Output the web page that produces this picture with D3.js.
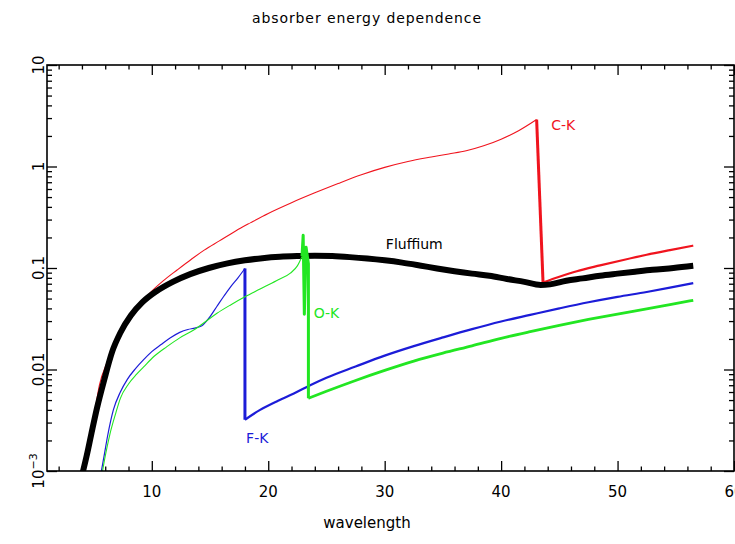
<!DOCTYPE html>
<html>
<head>
<meta charset="utf-8">
<script src="https://cdn.jsdelivr.net/npm/d3@7"></script>
<style>
  body { margin: 0; background: #fff; }
  svg { display: block; }
  text { font-family: "DejaVu Sans", sans-serif; fill: #000; }
  .axis path { display: none; }
  .axis line { stroke: #000; stroke-width: 1.3; }
</style>
</head>
<body>
<script>
// ---- data ----
var xTicks = [10, 20, 30, 40, 50, 60];
var yTicks = [1e-3, 0.01, 0.1, 1, 10];
var yTickLabels = ["10", "0.01", "0.1", "1", "10"];

// Fluffium (thick black)
var fluffium = [[4.0,0.0009],[4.4,0.0014],[4.8,0.0023],[5.3,0.0042],[5.9,0.0078],[6.6,0.015],[7.3,0.023],
  [8.2,0.034],[9.2,0.046],[10.4,0.059],[11.8,0.073],[13.3,0.087],[14.9,0.1],[16.5,0.111],[18,0.119],
  [19.5,0.125],[21,0.129],[22.5,0.131],[24,0.132],[25.5,0.131],[27,0.128],[28.5,0.124],[30,0.119],
  [31.5,0.113],[33,0.106],[34.5,0.099],[36,0.093],[37.5,0.088],[39,0.084],[40.5,0.078],[42,0.073],
  [43.4,0.068],[44.2,0.069],[45.6,0.075],[47,0.079],[48.5,0.084],[50,0.088],[51.5,0.092],[53,0.096],
  [54.8,0.1],[56.5,0.105]];

// C-K (red)
var ckBelow = [[4.1,0.0009],[4.5,0.0016],[5.0,0.0032],[5.5,0.007],[6.2,0.012],[7.2,0.0205],[8.5,0.036],
  [9.8,0.056],[11,0.075],[12.2,0.096],[13.4,0.122],[14.5,0.15],[15.8,0.185],[17.2,0.232],[18.5,0.28],
  [20,0.345],[22,0.44],[24,0.55],[26,0.68],[28,0.83],[30,0.98],[32,1.12],[34,1.24],[35.5,1.33],
  [37,1.43],[38.5,1.6],[40,1.86],[41.5,2.25],[43.05,2.9]];
var ckEdge = [[43.05,2.9],[43.6,0.072]];
var ckAbove = [[43.6,0.072],[45,0.082],[46.5,0.093],[48.5,0.106],[50.5,0.12],[52.5,0.135],[54.5,0.15],[56.5,0.166]];

// F-K (blue)
var fkBelow = [[5.6,0.0009],[5.9,0.0014],[6.2,0.0022],[6.7,0.004],[7.3,0.006],[7.9,0.008],[8.6,0.0102],
  [9.3,0.0125],[10,0.015],[10.8,0.0176],[11.6,0.0205],[12.4,0.0232],[13.1,0.0248],[13.7,0.0256],
  [14.3,0.027],[14.9,0.032],[15.6,0.042],[16.2,0.053],[16.8,0.066],[17.4,0.08],[18,0.099]];
var fkEdge = [[18,0.099],[18,0.0032]];
var fkAbove = [[18,0.0032],[19.3,0.004],[20.8,0.0049],[22.2,0.0058],[23.6,0.007],[25,0.0083],[27.5,0.0107],
  [30,0.0137],[32.5,0.017],[35,0.0207],[37.5,0.025],[40,0.0297],[42.5,0.0345],[45,0.04],[47.5,0.046],
  [50,0.052],[52.5,0.058],[54.5,0.064],[56.5,0.071]];

// O-K (green)
var okBelow = [[5.7,0.0009],[6.0,0.0014],[6.4,0.0023],[6.9,0.0037],[7.3,0.0052],[8,0.0072],[8.7,0.009],
  [9.3,0.0106],[10.2,0.0135],[11.3,0.0168],[12.4,0.0205],[13.6,0.0245],[14.6,0.0295],[15.6,0.0358],
  [16.8,0.0435],[18,0.052],[19.3,0.062],[20.7,0.075],[21.9,0.089],[22.5,0.105],[22.9,0.13]];
var okEdge = [[22.9,0.13],[23.0,0.21],[23.1,0.035],[23.25,0.16],[23.45,0.11],[23.45,0.0052]];
var okAbove = [[23.45,0.0052],[25,0.0061],[27.5,0.0078],[30,0.0098],[32.5,0.0121],[35,0.0145],
  [37.5,0.0171],[40,0.0203],[42.5,0.0236],[45,0.0272],[47.5,0.0311],[50,0.0352],[52.5,0.0396],
  [54.5,0.0436],[56.5,0.048]];

//chart frame
var width = 735,
    height = 544;
var frameL = 47, frameR = 734, frameT = 65, frameB = 471;

var svg = d3.select("body")
    .append("svg")
    .attr("width", width)
    .attr("height", height);

var x = d3.scaleLinear().domain([1, 60]).range([frameL, frameR]);
var y = d3.scaleLog().domain([1e-3, 10]).range([frameB, frameT]);

//minor tick values
var xMinor = d3.range(2, 60, 2).filter(function (v) { return v % 10 !== 0; });
var yMinor = [];
[1e-3, 1e-2, 1e-1, 1].forEach(function (d) {
    for (var k = 2; k < 10; k++) yMinor.push(d * k);
});

//inward ticks on all four sides
function addAxis(axisFn, scale, vals, size, tx, ty) {
    svg.append("g")
        .attr("class", "axis")
        .attr("transform", "translate(" + tx + "," + ty + ")")
        .call(axisFn(scale).tickValues(vals).tickSize(-size).tickFormat(""));
}
addAxis(d3.axisBottom, x, xTicks, 10, 0, frameB);
addAxis(d3.axisBottom, x, xMinor, 4.5, 0, frameB);
addAxis(d3.axisTop, x, xTicks, 10, 0, frameT);
addAxis(d3.axisTop, x, xMinor, 4.5, 0, frameT);
addAxis(d3.axisLeft, y, yTicks, 10, frameL, 0);
addAxis(d3.axisLeft, y, yMinor, 5, frameL, 0);
addAxis(d3.axisRight, y, yTicks, 10, frameR, 0);
addAxis(d3.axisRight, y, yMinor, 5, frameR, 0);

//x tick labels (the 60 runs off the page edge)
svg.selectAll(".xlab")
    .data(xTicks)
    .enter()
    .append("text")
    .attr("x", function (d) { return x(d); })
    .attr("y", 497)
    .attr("text-anchor", "middle")
    .style("font-size", "15px")
    .text(function (d) { return d; });

//y tick labels, rotated
svg.selectAll(".ylab")
    .data(yTicks)
    .enter()
    .append("text")
    .attr("transform", function (d) { return "translate(44," + y(d) + ") rotate(-90)"; })
    .attr("text-anchor", "middle")
    .style("font-size", "15px")
    .each(function (d, i) {
        var t = d3.select(this);
        t.append("tspan").text(yTickLabels[i]);
        if (d === 1e-3) {
            t.append("tspan").attr("dy", -7).style("font-size", "11px").text("\u22123");
        }
    });

//clip curves to frame
svg.append("clipPath").attr("id", "plot")
    .append("rect")
    .attr("x", frameL).attr("y", frameT)
    .attr("width", frameR - frameL).attr("height", frameB - frameT);

var line = d3.line()
    .x(function (d) { return x(d[0]); })
    .y(function (d) { return y(d[1]); });
var smooth = d3.line()
    .curve(d3.curveMonotoneX)
    .x(function (d) { return x(d[0]); })
    .y(function (d) { return y(d[1]); });

var curves = svg.append("g").attr("clip-path", "url(#plot)");

function draw(data, gen, color, w) {
    curves.append("path")
        .datum(data)
        .attr("d", gen)
        .attr("fill", "none")
        .attr("stroke", color)
        .attr("stroke-width", w)
        .attr("stroke-linejoin", "round");
}

var red = "#f0141e", blue = "#1c1cd8", green = "#22e622";

draw(ckBelow, smooth, red, 1.1);
draw(ckEdge, line, red, 3);
draw(ckAbove, smooth, red, 2.2);

draw(fluffium, smooth, "#000", 6);

draw(fkBelow, smooth, blue, 1.2);
draw(fkEdge, line, blue, 3);
draw(fkAbove, smooth, blue, 2.2);

draw(okBelow, smooth, green, 1.1);
draw(okEdge, line, green, 3);
draw(okAbove, smooth, green, 2.8);

//frame
svg.append("rect")
    .attr("x", frameL).attr("y", frameT)
    .attr("width", frameR - frameL).attr("height", frameB - frameT)
    .attr("fill", "none")
    .attr("stroke", "#000")
    .attr("stroke-width", 1.6);

//curve labels
var labels = [
    { text: "C-K", x: 44.3, y: 2.3, color: red },
    { text: "Fluffium", x: 30.1, y: 0.155, color: "#000" },
    { text: "O-K", x: 23.9, y: 0.032, color: green },
    { text: "F-K", x: 18.1, y: 0.0019, color: blue }
];
svg.selectAll(".clab")
    .data(labels)
    .enter()
    .append("text")
    .attr("x", function (d) { return x(d.x); })
    .attr("y", function (d) { return y(d.y); })
    .style("font-size", "14px")
    .style("fill", function (d) { return d.color; })
    .text(function (d) { return d.text; });

//titles
svg.append("text")
    .attr("x", 367).attr("y", 23)
    .attr("text-anchor", "middle")
    .style("font-size", "14px")
    .style("letter-spacing", "0.9px")
    .text("absorber energy dependence");

svg.append("text")
    .attr("x", 367).attr("y", 528)
    .attr("text-anchor", "middle")
    .style("font-size", "15px")
    .text("wavelength");
</script>
</body>
</html>
